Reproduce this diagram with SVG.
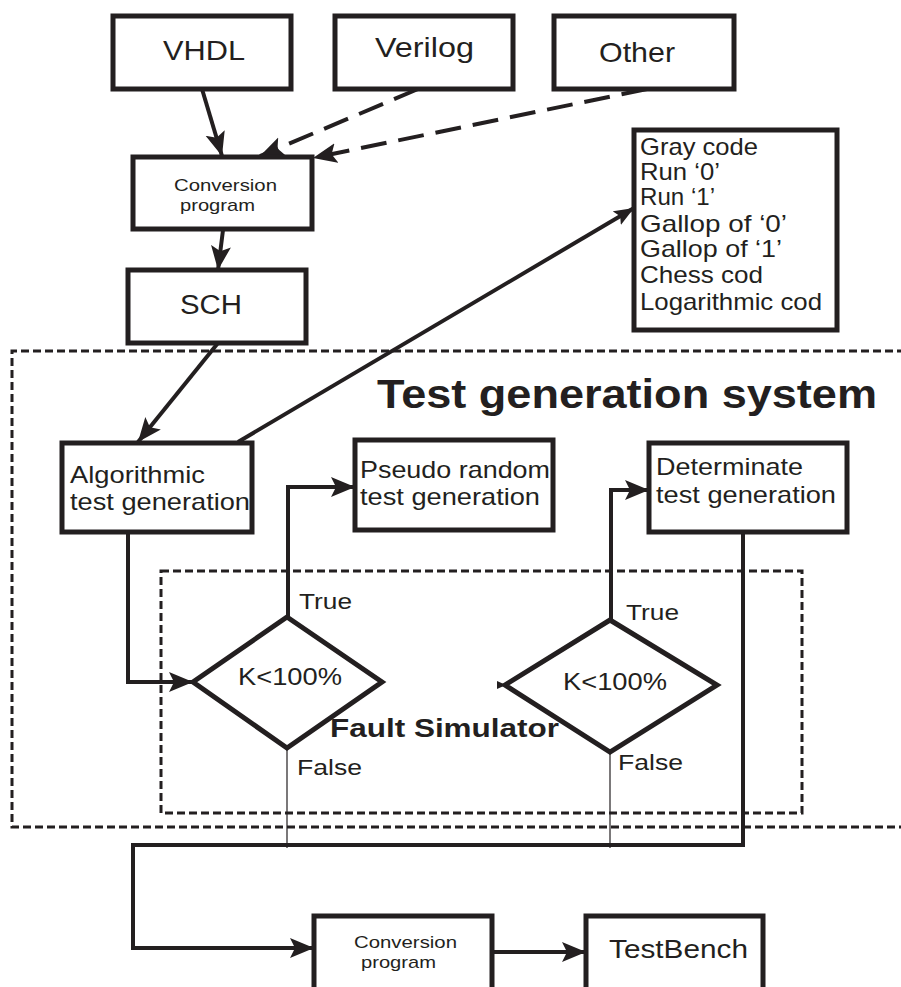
<svg xmlns="http://www.w3.org/2000/svg" width="901" height="987" viewBox="0 0 901 987">
<style>
.box{fill:#fff;stroke:#231f20;stroke-width:5}
.t{font-family:"Liberation Sans",Arial,sans-serif;fill:#231f20}
.b{font-family:"Liberation Sans",Arial,sans-serif;font-weight:bold;fill:#231f20}
.ln{fill:none;stroke:#231f20;stroke-width:4}
.thin{fill:none;stroke:#231f20;stroke-width:1.2}
.dash{fill:none;stroke:#231f20;stroke-width:4;stroke-dasharray:26,12}
.frame{fill:none;stroke:#231f20;stroke-width:3;stroke-dasharray:8,4}
.dia{fill:#fff;stroke:#231f20;stroke-width:5;stroke-linejoin:miter}
</style>
<defs>
<marker id="ah" markerUnits="userSpaceOnUse" markerWidth="26" markerHeight="22" refX="24" refY="10" orient="auto">
<path d="M0,0 L24,10 L0,20 L5,10 z" fill="#231f20"/>
</marker>
<marker id="ahs" markerUnits="userSpaceOnUse" markerWidth="22" markerHeight="18" refX="20" refY="8" orient="auto">
<path d="M0,0 L20,8 L0,16 L4,8 z" fill="#231f20"/>
</marker>
</defs>
<rect width="901" height="987" fill="#fff"/>

<g id="frames">
<path class="frame" d="M905,351 L12,351 L12,827 L905,827"/>
<rect class="frame" x="161" y="571" width="641" height="242"/>
</g>

<g id="connectors">
<line class="ln" x1="202" y1="89" x2="222" y2="156" marker-end="url(#ah)"/>
<line class="dash" x1="418" y1="89" x2="260" y2="156" marker-end="url(#ah)"/>
<line class="dash" x1="647" y1="89" x2="313" y2="158" marker-end="url(#ah)"/>
<line class="ln" x1="223" y1="230" x2="218" y2="270" marker-end="url(#ah)"/>
<line class="ln" x1="218" y1="343" x2="138" y2="442" stroke-width="3.5" marker-end="url(#ah)"/>
<line class="ln" x1="238" y1="442" x2="634" y2="208" stroke-width="2.8" marker-end="url(#ahs)"/>
<polyline class="ln" points="128,532 128,682 193,682" marker-end="url(#ah)"/>
<polyline class="ln" points="288,617 288,487 355,487" stroke-width="3.5" marker-end="url(#ah)"/>
<polyline class="ln" points="611,620 611,490 649,490" stroke-width="3.5" marker-end="url(#ah)"/>
<polyline class="ln" points="743,532 743,845 133,845 133,948 314,948" stroke-width="3.5" marker-end="url(#ah)"/>
<line class="ln" x1="492" y1="952" x2="586" y2="952" stroke-width="3.5" marker-end="url(#ah)"/>
<line class="thin" x1="287" y1="748" x2="287" y2="848"/>
<line class="thin" x1="610" y1="752" x2="610" y2="848"/>
<path d="M497,681 L506,685 L497,689 z" fill="#231f20"/>
</g>

<g id="vhdl">
<rect class="box" x="113" y="16" width="178" height="73"/>
<text class="t" x="163" y="60" font-size="28" textLength="82" lengthAdjust="spacingAndGlyphs">VHDL</text>
</g>
<g id="verilog">
<rect class="box" x="335" y="16" width="178" height="73"/>
<text class="t" x="375" y="57" font-size="28" textLength="99" lengthAdjust="spacingAndGlyphs">Verilog</text>
</g>
<g id="other">
<rect class="box" x="554" y="16" width="180" height="73"/>
<text class="t" x="599" y="62" font-size="28" textLength="76" lengthAdjust="spacingAndGlyphs">Other</text>
</g>
<g id="conversion1">
<rect class="box" x="133" y="157" width="179" height="72"/>
<text class="t" x="174" y="191" font-size="17" textLength="103" lengthAdjust="spacingAndGlyphs">Conversion</text>
<text class="t" x="180" y="211" font-size="17" textLength="75" lengthAdjust="spacingAndGlyphs">program</text>
</g>
<g id="sch">
<rect class="box" x="128" y="270" width="178" height="73"/>
<text class="t" x="180" y="314" font-size="27" textLength="62" lengthAdjust="spacingAndGlyphs">SCH</text>
</g>
<g id="codes">
<rect class="box" x="634" y="130" width="203" height="200"/>
<text class="t" x="640" y="155" font-size="24" textLength="118" lengthAdjust="spacingAndGlyphs">Gray code</text>
<text class="t" x="640" y="180" font-size="24" textLength="80" lengthAdjust="spacingAndGlyphs">Run ‘0’</text>
<text class="t" x="640" y="205" font-size="24" textLength="75" lengthAdjust="spacingAndGlyphs">Run ‘1’</text>
<text class="t" x="640" y="232" font-size="24" textLength="147" lengthAdjust="spacingAndGlyphs">Gallop of ‘0’</text>
<text class="t" x="640" y="257" font-size="24" textLength="142" lengthAdjust="spacingAndGlyphs">Gallop of ‘1’</text>
<text class="t" x="640" y="283" font-size="24" textLength="123" lengthAdjust="spacingAndGlyphs">Chess cod</text>
<text class="t" x="640" y="310" font-size="24" textLength="182" lengthAdjust="spacingAndGlyphs">Logarithmic cod</text>
</g>
<g id="title">
<text class="b" x="377" y="408" font-size="40" textLength="500" lengthAdjust="spacingAndGlyphs">Test generation system</text>
</g>
<g id="algorithmic">
<rect class="box" x="62" y="443" width="190" height="89"/>
<text class="t" x="70" y="483" font-size="24" textLength="135" lengthAdjust="spacingAndGlyphs">Algorithmic</text>
<text class="t" x="70" y="510" font-size="24" textLength="180" lengthAdjust="spacingAndGlyphs">test generation</text>
</g>
<g id="pseudo">
<rect class="box" x="355" y="440" width="198" height="90"/>
<text class="t" x="360" y="478" font-size="24" textLength="190" lengthAdjust="spacingAndGlyphs">Pseudo random</text>
<text class="t" x="360" y="505" font-size="24" textLength="180" lengthAdjust="spacingAndGlyphs">test generation</text>
</g>
<g id="determinate">
<rect class="box" x="649" y="443" width="198" height="89"/>
<text class="t" x="656" y="475" font-size="24" textLength="147" lengthAdjust="spacingAndGlyphs">Determinate</text>
<text class="t" x="656" y="503" font-size="24" textLength="180" lengthAdjust="spacingAndGlyphs">test generation</text>
</g>
<g id="decision1">
<polygon class="dia" points="287,617 382,682 287,748 193,682"/>
<text class="t" x="238" y="685" font-size="24" textLength="104" lengthAdjust="spacingAndGlyphs">K&lt;100%</text>
<text class="t" x="299" y="609" font-size="22" textLength="53" lengthAdjust="spacingAndGlyphs">True</text>
<text class="t" x="297" y="775" font-size="22" textLength="65" lengthAdjust="spacingAndGlyphs">False</text>
</g>
<g id="decision2">
<polygon class="dia" points="610,620 717,685 610,752 505,685"/>
<text class="t" x="563" y="690" font-size="24" textLength="104" lengthAdjust="spacingAndGlyphs">K&lt;100%</text>
<text class="t" x="626" y="620" font-size="22" textLength="53" lengthAdjust="spacingAndGlyphs">True</text>
<text class="t" x="618" y="770" font-size="22" textLength="65" lengthAdjust="spacingAndGlyphs">False</text>
</g>
<g id="faultsim">
<text class="b" x="330" y="737" font-size="25" textLength="229" lengthAdjust="spacingAndGlyphs">Fault Simulator</text>
</g>
<g id="conversion2">
<rect class="box" x="314" y="916" width="178" height="80"/>
<text class="t" x="354" y="948" font-size="17" textLength="103" lengthAdjust="spacingAndGlyphs">Conversion</text>
<text class="t" x="361" y="968" font-size="17" textLength="75" lengthAdjust="spacingAndGlyphs">program</text>
</g>
<g id="testbench">
<rect class="box" x="586" y="916" width="177" height="80"/>
<text class="t" x="609" y="958" font-size="26" textLength="139" lengthAdjust="spacingAndGlyphs">TestBench</text>
</g>
</svg>
